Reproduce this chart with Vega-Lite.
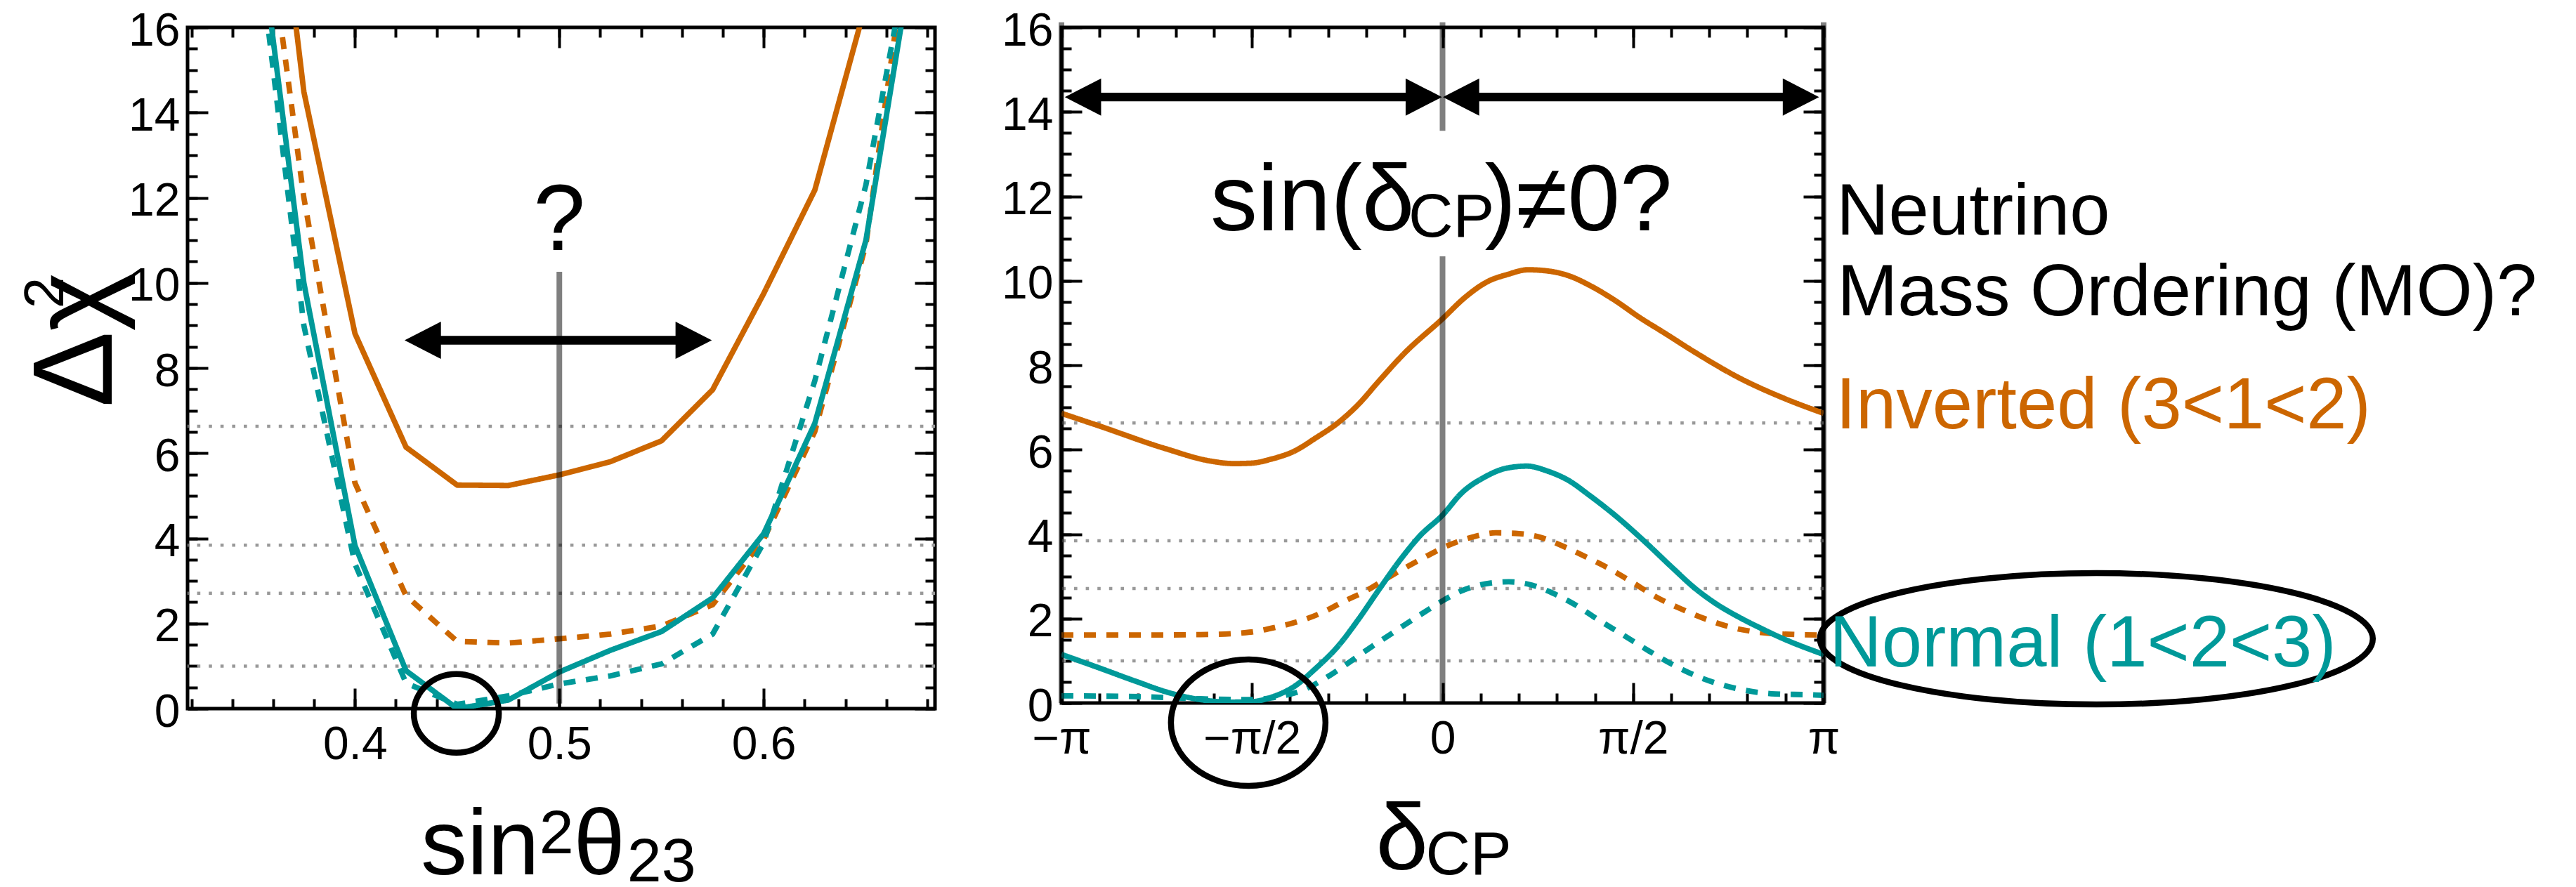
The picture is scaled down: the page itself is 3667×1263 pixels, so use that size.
{
  "$schema": "https://vega.github.io/schema/vega-lite/v6.json",
  "background": "white",
  "padding": {"left": 23, "top": 8, "right": 0, "bottom": 0},
  "bounds": "flush",
  "spacing": 180,
  "datasets": {
    "levels": [{"level": 1.0}, {"level": 2.71}, {"level": 3.84}, {"level": 6.63}],
    "theta23": [
      {"s2": 0.35, "chi2": 24.5, "mo": "Inverted", "analysis": "A"},
      {"s2": 0.375, "chi2": 14.49, "mo": "Inverted", "analysis": "A"},
      {"s2": 0.4, "chi2": 8.81, "mo": "Inverted", "analysis": "A"},
      {"s2": 0.425, "chi2": 6.14, "mo": "Inverted", "analysis": "A"},
      {"s2": 0.45, "chi2": 5.25, "mo": "Inverted", "analysis": "A"},
      {"s2": 0.475, "chi2": 5.24, "mo": "Inverted", "analysis": "A"},
      {"s2": 0.5, "chi2": 5.49, "mo": "Inverted", "analysis": "A"},
      {"s2": 0.525, "chi2": 5.8, "mo": "Inverted", "analysis": "A"},
      {"s2": 0.55, "chi2": 6.29, "mo": "Inverted", "analysis": "A"},
      {"s2": 0.575, "chi2": 7.49, "mo": "Inverted", "analysis": "A"},
      {"s2": 0.6, "chi2": 9.75, "mo": "Inverted", "analysis": "A"},
      {"s2": 0.625, "chi2": 12.18, "mo": "Inverted", "analysis": "A"},
      {"s2": 0.65, "chi2": 16.56, "mo": "Inverted", "analysis": "A"},
      {"s2": 0.35, "chi2": 21.0, "mo": "Inverted", "analysis": "B"},
      {"s2": 0.375, "chi2": 12.0, "mo": "Inverted", "analysis": "B"},
      {"s2": 0.4, "chi2": 5.3, "mo": "Inverted", "analysis": "B"},
      {"s2": 0.425, "chi2": 2.65, "mo": "Inverted", "analysis": "B"},
      {"s2": 0.45, "chi2": 1.58, "mo": "Inverted", "analysis": "B"},
      {"s2": 0.475, "chi2": 1.54, "mo": "Inverted", "analysis": "B"},
      {"s2": 0.5, "chi2": 1.64, "mo": "Inverted", "analysis": "B"},
      {"s2": 0.525, "chi2": 1.75, "mo": "Inverted", "analysis": "B"},
      {"s2": 0.55, "chi2": 1.94, "mo": "Inverted", "analysis": "B"},
      {"s2": 0.575, "chi2": 2.44, "mo": "Inverted", "analysis": "B"},
      {"s2": 0.6, "chi2": 3.98, "mo": "Inverted", "analysis": "B"},
      {"s2": 0.625, "chi2": 6.51, "mo": "Inverted", "analysis": "B"},
      {"s2": 0.65, "chi2": 10.9, "mo": "Inverted", "analysis": "B"},
      {"s2": 0.675, "chi2": 19.6, "mo": "Inverted", "analysis": "B"},
      {"s2": 0.35, "chi2": 19.5, "mo": "Normal", "analysis": "A"},
      {"s2": 0.375, "chi2": 10.0, "mo": "Normal", "analysis": "A"},
      {"s2": 0.4, "chi2": 3.83, "mo": "Normal", "analysis": "A"},
      {"s2": 0.425, "chi2": 0.89, "mo": "Normal", "analysis": "A"},
      {"s2": 0.45, "chi2": 0.0, "mo": "Normal", "analysis": "A"},
      {"s2": 0.475, "chi2": 0.2, "mo": "Normal", "analysis": "A"},
      {"s2": 0.5, "chi2": 0.86, "mo": "Normal", "analysis": "A"},
      {"s2": 0.525, "chi2": 1.37, "mo": "Normal", "analysis": "A"},
      {"s2": 0.55, "chi2": 1.81, "mo": "Normal", "analysis": "A"},
      {"s2": 0.575, "chi2": 2.6, "mo": "Normal", "analysis": "A"},
      {"s2": 0.6, "chi2": 4.11, "mo": "Normal", "analysis": "A"},
      {"s2": 0.625, "chi2": 6.7, "mo": "Normal", "analysis": "A"},
      {"s2": 0.65, "chi2": 11.0, "mo": "Normal", "analysis": "A"},
      {"s2": 0.675, "chi2": 18.3, "mo": "Normal", "analysis": "A"},
      {"s2": 0.35, "chi2": 19.0, "mo": "Normal", "analysis": "B"},
      {"s2": 0.375, "chi2": 9.0, "mo": "Normal", "analysis": "B"},
      {"s2": 0.4, "chi2": 3.4, "mo": "Normal", "analysis": "B"},
      {"s2": 0.425, "chi2": 0.6, "mo": "Normal", "analysis": "B"},
      {"s2": 0.45, "chi2": 0.1, "mo": "Normal", "analysis": "B"},
      {"s2": 0.475, "chi2": 0.3, "mo": "Normal", "analysis": "B"},
      {"s2": 0.5, "chi2": 0.58, "mo": "Normal", "analysis": "B"},
      {"s2": 0.525, "chi2": 0.77, "mo": "Normal", "analysis": "B"},
      {"s2": 0.55, "chi2": 1.05, "mo": "Normal", "analysis": "B"},
      {"s2": 0.575, "chi2": 1.75, "mo": "Normal", "analysis": "B"},
      {"s2": 0.6, "chi2": 3.9, "mo": "Normal", "analysis": "B"},
      {"s2": 0.625, "chi2": 7.7, "mo": "Normal", "analysis": "B"},
      {"s2": 0.65, "chi2": 12.3, "mo": "Normal", "analysis": "B"},
      {"s2": 0.675, "chi2": 18.8, "mo": "Normal", "analysis": "B"}
    ],
    "dcp": [
      {"d": -3.1416, "chi2": 6.86, "mo": "Inverted", "analysis": "A"},
      {"d": -2.839, "chi2": 6.57, "mo": "Inverted", "analysis": "A"},
      {"d": -2.291, "chi2": 6.03, "mo": "Inverted", "analysis": "A"},
      {"d": -1.913, "chi2": 5.73, "mo": "Inverted", "analysis": "A"},
      {"d": -1.723, "chi2": 5.67, "mo": "Inverted", "analysis": "A"},
      {"d": -1.576, "chi2": 5.68, "mo": "Inverted", "analysis": "A"},
      {"d": -1.407, "chi2": 5.78, "mo": "Inverted", "analysis": "A"},
      {"d": -1.218, "chi2": 5.97, "mo": "Inverted", "analysis": "A"},
      {"d": -1.049, "chi2": 6.27, "mo": "Inverted", "analysis": "A"},
      {"d": -0.86, "chi2": 6.64, "mo": "Inverted", "analysis": "A"},
      {"d": -0.691, "chi2": 7.08, "mo": "Inverted", "analysis": "A"},
      {"d": -0.523, "chi2": 7.63, "mo": "Inverted", "analysis": "A"},
      {"d": -0.312, "chi2": 8.29, "mo": "Inverted", "analysis": "A"},
      {"d": 0.0, "chi2": 9.1, "mo": "Inverted", "analysis": "A"},
      {"d": 0.183, "chi2": 9.6, "mo": "Inverted", "analysis": "A"},
      {"d": 0.371, "chi2": 9.98, "mo": "Inverted", "analysis": "A"},
      {"d": 0.537, "chi2": 10.15, "mo": "Inverted", "analysis": "A"},
      {"d": 0.704, "chi2": 10.26, "mo": "Inverted", "analysis": "A"},
      {"d": 0.871, "chi2": 10.23, "mo": "Inverted", "analysis": "A"},
      {"d": 1.038, "chi2": 10.12, "mo": "Inverted", "analysis": "A"},
      {"d": 1.226, "chi2": 9.87, "mo": "Inverted", "analysis": "A"},
      {"d": 1.413, "chi2": 9.55, "mo": "Inverted", "analysis": "A"},
      {"d": 1.63, "chi2": 9.12, "mo": "Inverted", "analysis": "A"},
      {"d": 1.831, "chi2": 8.76, "mo": "Inverted", "analysis": "A"},
      {"d": 2.067, "chi2": 8.33, "mo": "Inverted", "analysis": "A"},
      {"d": 2.452, "chi2": 7.69, "mo": "Inverted", "analysis": "A"},
      {"d": 2.795, "chi2": 7.24, "mo": "Inverted", "analysis": "A"},
      {"d": 3.1416, "chi2": 6.86, "mo": "Inverted", "analysis": "A"},
      {"d": -3.1416, "chi2": 1.61, "mo": "Inverted", "analysis": "B"},
      {"d": -2.5, "chi2": 1.61, "mo": "Inverted", "analysis": "B"},
      {"d": -2.0, "chi2": 1.62, "mo": "Inverted", "analysis": "B"},
      {"d": -1.744, "chi2": 1.64, "mo": "Inverted", "analysis": "B"},
      {"d": -1.533, "chi2": 1.7, "mo": "Inverted", "analysis": "B"},
      {"d": -1.365, "chi2": 1.8, "mo": "Inverted", "analysis": "B"},
      {"d": -1.155, "chi2": 1.96, "mo": "Inverted", "analysis": "B"},
      {"d": -0.986, "chi2": 2.15, "mo": "Inverted", "analysis": "B"},
      {"d": -0.818, "chi2": 2.4, "mo": "Inverted", "analysis": "B"},
      {"d": -0.628, "chi2": 2.66, "mo": "Inverted", "analysis": "B"},
      {"d": -0.46, "chi2": 2.95, "mo": "Inverted", "analysis": "B"},
      {"d": -0.291, "chi2": 3.23, "mo": "Inverted", "analysis": "B"},
      {"d": -0.123, "chi2": 3.49, "mo": "Inverted", "analysis": "B"},
      {"d": 0.053, "chi2": 3.74, "mo": "Inverted", "analysis": "B"},
      {"d": 0.246, "chi2": 3.93, "mo": "Inverted", "analysis": "B"},
      {"d": 0.439, "chi2": 4.03, "mo": "Inverted", "analysis": "B"},
      {"d": 0.632, "chi2": 4.01, "mo": "Inverted", "analysis": "B"},
      {"d": 0.825, "chi2": 3.91, "mo": "Inverted", "analysis": "B"},
      {"d": 0.996, "chi2": 3.71, "mo": "Inverted", "analysis": "B"},
      {"d": 1.189, "chi2": 3.45, "mo": "Inverted", "analysis": "B"},
      {"d": 1.382, "chi2": 3.17, "mo": "Inverted", "analysis": "B"},
      {"d": 1.553, "chi2": 2.88, "mo": "Inverted", "analysis": "B"},
      {"d": 1.767, "chi2": 2.5, "mo": "Inverted", "analysis": "B"},
      {"d": 1.981, "chi2": 2.21, "mo": "Inverted", "analysis": "B"},
      {"d": 2.196, "chi2": 1.96, "mo": "Inverted", "analysis": "B"},
      {"d": 2.41, "chi2": 1.77, "mo": "Inverted", "analysis": "B"},
      {"d": 2.624, "chi2": 1.67, "mo": "Inverted", "analysis": "B"},
      {"d": 2.924, "chi2": 1.62, "mo": "Inverted", "analysis": "B"},
      {"d": 3.1416, "chi2": 1.61, "mo": "Inverted", "analysis": "B"},
      {"d": -3.1416, "chi2": 1.15, "mo": "Normal", "analysis": "A"},
      {"d": -2.839, "chi2": 0.84, "mo": "Normal", "analysis": "A"},
      {"d": -2.544, "chi2": 0.53, "mo": "Normal", "analysis": "A"},
      {"d": -2.25, "chi2": 0.24, "mo": "Normal", "analysis": "A"},
      {"d": -1.997, "chi2": 0.08, "mo": "Normal", "analysis": "A"},
      {"d": -1.744, "chi2": 0.02, "mo": "Normal", "analysis": "A"},
      {"d": -1.576, "chi2": 0.03, "mo": "Normal", "analysis": "A"},
      {"d": -1.407, "chi2": 0.14, "mo": "Normal", "analysis": "A"},
      {"d": -1.218, "chi2": 0.4, "mo": "Normal", "analysis": "A"},
      {"d": -1.049, "chi2": 0.81, "mo": "Normal", "analysis": "A"},
      {"d": -0.86, "chi2": 1.35, "mo": "Normal", "analysis": "A"},
      {"d": -0.691, "chi2": 1.99, "mo": "Normal", "analysis": "A"},
      {"d": -0.523, "chi2": 2.69, "mo": "Normal", "analysis": "A"},
      {"d": -0.333, "chi2": 3.45, "mo": "Normal", "analysis": "A"},
      {"d": -0.186, "chi2": 3.96, "mo": "Normal", "analysis": "A"},
      {"d": 0.0, "chi2": 4.45, "mo": "Normal", "analysis": "A"},
      {"d": 0.16, "chi2": 4.98, "mo": "Normal", "analysis": "A"},
      {"d": 0.353, "chi2": 5.36, "mo": "Normal", "analysis": "A"},
      {"d": 0.525, "chi2": 5.56, "mo": "Normal", "analysis": "A"},
      {"d": 0.696, "chi2": 5.61, "mo": "Normal", "analysis": "A"},
      {"d": 0.867, "chi2": 5.49, "mo": "Normal", "analysis": "A"},
      {"d": 1.039, "chi2": 5.27, "mo": "Normal", "analysis": "A"},
      {"d": 1.21, "chi2": 4.92, "mo": "Normal", "analysis": "A"},
      {"d": 1.424, "chi2": 4.44, "mo": "Normal", "analysis": "A"},
      {"d": 1.66, "chi2": 3.84, "mo": "Normal", "analysis": "A"},
      {"d": 1.896, "chi2": 3.2, "mo": "Normal", "analysis": "A"},
      {"d": 2.067, "chi2": 2.75, "mo": "Normal", "analysis": "A"},
      {"d": 2.26, "chi2": 2.34, "mo": "Normal", "analysis": "A"},
      {"d": 2.452, "chi2": 2.02, "mo": "Normal", "analysis": "A"},
      {"d": 2.624, "chi2": 1.77, "mo": "Normal", "analysis": "A"},
      {"d": 2.795, "chi2": 1.54, "mo": "Normal", "analysis": "A"},
      {"d": 3.1416, "chi2": 1.15, "mo": "Normal", "analysis": "A"},
      {"d": -3.1416, "chi2": 0.17, "mo": "Normal", "analysis": "B"},
      {"d": -2.5, "chi2": 0.15, "mo": "Normal", "analysis": "B"},
      {"d": -2.0, "chi2": 0.1, "mo": "Normal", "analysis": "B"},
      {"d": -1.6, "chi2": 0.08, "mo": "Normal", "analysis": "B"},
      {"d": -1.35, "chi2": 0.15, "mo": "Normal", "analysis": "B"},
      {"d": -1.155, "chi2": 0.3, "mo": "Normal", "analysis": "B"},
      {"d": -0.965, "chi2": 0.59, "mo": "Normal", "analysis": "B"},
      {"d": -0.796, "chi2": 0.91, "mo": "Normal", "analysis": "B"},
      {"d": -0.607, "chi2": 1.29, "mo": "Normal", "analysis": "B"},
      {"d": -0.438, "chi2": 1.61, "mo": "Normal", "analysis": "B"},
      {"d": -0.27, "chi2": 1.93, "mo": "Normal", "analysis": "B"},
      {"d": -0.101, "chi2": 2.24, "mo": "Normal", "analysis": "B"},
      {"d": 0.0, "chi2": 2.42, "mo": "Normal", "analysis": "B"},
      {"d": 0.16, "chi2": 2.66, "mo": "Normal", "analysis": "B"},
      {"d": 0.353, "chi2": 2.82, "mo": "Normal", "analysis": "B"},
      {"d": 0.546, "chi2": 2.87, "mo": "Normal", "analysis": "B"},
      {"d": 0.739, "chi2": 2.79, "mo": "Normal", "analysis": "B"},
      {"d": 0.91, "chi2": 2.6, "mo": "Normal", "analysis": "B"},
      {"d": 1.103, "chi2": 2.31, "mo": "Normal", "analysis": "B"},
      {"d": 1.274, "chi2": 1.99, "mo": "Normal", "analysis": "B"},
      {"d": 1.489, "chi2": 1.61, "mo": "Normal", "analysis": "B"},
      {"d": 1.703, "chi2": 1.23, "mo": "Normal", "analysis": "B"},
      {"d": 1.917, "chi2": 0.88, "mo": "Normal", "analysis": "B"},
      {"d": 2.11, "chi2": 0.62, "mo": "Normal", "analysis": "B"},
      {"d": 2.302, "chi2": 0.43, "mo": "Normal", "analysis": "B"},
      {"d": 2.495, "chi2": 0.3, "mo": "Normal", "analysis": "B"},
      {"d": 2.71, "chi2": 0.22, "mo": "Normal", "analysis": "B"},
      {"d": 3.073, "chi2": 0.19, "mo": "Normal", "analysis": "B"},
      {"d": 3.1416, "chi2": 0.18, "mo": "Normal", "analysis": "B"}
    ]
  },
  "hconcat": [
    {
      "width": 1064,
      "height": 970,
      "resolve": {"axis": {"x": "independent", "y": "independent"}},
      "layer": [
        {
          "data": {"name": "levels"},
          "mark": {"type": "rule", "color": "#999999", "strokeWidth": 4.5, "strokeDash": [4.6, 12]},
          "encoding": {"y": {"field": "level", "type": "quantitative", "axis": null}}
        },
        {
          "data": {"name": "theta23"},
          "mark": {"type": "line", "clip": true, "strokeWidth": 7.8, "strokeCap": "butt"},
          "encoding": {
            "x": {"field": "s2", "type": "quantitative",
                  "scale": {"domain": [0.3181, 0.6838], "nice": false, "zero": false},
                  "axis": {"orient": "bottom", "values": [0.4, 0.5, 0.6], "format": ".1f", "ticks": false, "tickSize": 0, "labelPadding": 19, "title": null}},
            "y": {"field": "chi2", "type": "quantitative",
                  "scale": {"domain": [0, 16], "nice": false, "zero": false},
                  "axis": {"orient": "left", "values": [0, 2, 4, 6, 8, 10, 12, 14, 16], "ticks": false, "tickSize": 0, "labelPadding": 11, "labelOffset": 5, "title": null}},
            "color": {"field": "mo", "type": "nominal", "scale": {"domain": ["Inverted", "Normal"], "range": ["#CC6600", "#009999"]}, "legend": null},
            "strokeDash": {"field": "analysis", "type": "nominal", "scale": {"domain": ["A", "B"], "range": [[1, 0], [17, 15]]}, "legend": null}
          }
        },
        {
          "data": {"values": [{"s2": 0.5, "lo": 0.12, "hi": 10.26}]},
          "mark": {"type": "rule", "color": "black", "opacity": 0.5, "strokeWidth": 8},
          "encoding": {
            "x": {"field": "s2", "type": "quantitative",
                  "axis": {"orient": "bottom", "values": [0.4, 0.5, 0.6], "offset": -29, "tickSize": 29, "labels": false, "title": null}},
            "y": {"field": "lo", "type": "quantitative",
                  "axis": {"orient": "left", "values": [0, 2, 4, 6, 8, 10, 12, 14, 16], "offset": -29, "tickSize": 29, "labels": false, "title": null}},
            "y2": {"field": "hi"}
          }
        },
        {
          "data": {"values": [{"from": 0.4393, "to": 0.5596, "at": 8.65}]},
          "mark": {"type": "rule", "color": "black", "strokeWidth": 12.5},
          "encoding": {
            "x": {"field": "from", "type": "quantitative",
                  "axis": {"orient": "top", "values": [0.4, 0.5, 0.6], "offset": -29, "tickSize": 29, "labels": false, "title": null}},
            "x2": {"field": "to"},
            "y": {"field": "at", "type": "quantitative",
                  "axis": {"orient": "right", "values": [0, 2, 4, 6, 8, 10, 12, 14, 16], "offset": -29, "tickSize": 29, "labels": false, "title": null}}
          }
        },
        {
          "data": {"values": [{"tip": 0.4243, "at": 8.65, "dir": "left"}, {"tip": 0.5746, "at": 8.65, "dir": "right"}]},
          "mark": {"type": "point", "filled": true, "color": "black", "opacity": 1, "size": 2809, "strokeWidth": 0},
          "encoding": {
            "x": {"field": "tip", "type": "quantitative",
                  "axis": {"orient": "bottom", "values": [0.32, 0.34, 0.36, 0.38, 0.4, 0.42, 0.44, 0.46, 0.48, 0.5, 0.52, 0.54, 0.56, 0.58, 0.6, 0.62, 0.64, 0.66, 0.68], "offset": -14, "tickSize": 14, "labels": false, "title": null}},
            "y": {"field": "at", "type": "quantitative",
                  "axis": {"orient": "left", "values": [0, 0.5, 1, 1.5, 2, 2.5, 3, 3.5, 4, 4.5, 5, 5.5, 6, 6.5, 7, 7.5, 8, 8.5, 9, 9.5, 10, 10.5, 11, 11.5, 12, 12.5, 13, 13.5, 14, 14.5, 15, 15.5, 16], "offset": -14, "tickSize": 14, "labels": false, "title": null}},
            "shape": {"field": "dir", "type": "nominal", "scale": {"domain": ["left", "right"], "range": ["M0,0L1.95,-1L1.95,1Z", "M0,0L-1.95,-1L-1.95,1Z"]}, "legend": null}
          }
        },
        {
          "data": {"values": [{}]},
          "mark": {"type": "text", "text": "?", "font": "Liberation Sans", "fontSize": 133, "align": "center", "baseline": "alphabetic", "color": "black"},
          "encoding": {
            "x": {"datum": 0.5, "type": "quantitative",
                  "axis": {"orient": "top", "values": [0.32, 0.34, 0.36, 0.38, 0.4, 0.42, 0.44, 0.46, 0.48, 0.5, 0.52, 0.54, 0.56, 0.58, 0.6, 0.62, 0.64, 0.66, 0.68], "offset": -14, "tickSize": 14, "labels": false, "title": null}},
            "y": {"datum": 10.77, "type": "quantitative",
                  "axis": {"orient": "right", "values": [0, 0.5, 1, 1.5, 2, 2.5, 3, 3.5, 4, 4.5, 5, 5.5, 6, 6.5, 7, 7.5, 8, 8.5, 9, 9.5, 10, 10.5, 11, 11.5, 12, 12.5, 13, 13.5, 14, 14.5, 15, 15.5, 16], "offset": -14, "tickSize": 14, "labels": false, "title": null}}
          }
        },
        {
          "data": {"values": [{}]},
          "mark": {"type": "point", "shape": "M1,0C1,0.5114 0.5523,0.926 0,0.926C-0.5523,0.926 -1,0.5114 -1,0C-1,-0.5114 -0.5523,-0.926 0,-0.926C0.5523,-0.926 1,-0.5114 1,0Z", "filled": false, "color": "black", "opacity": 1, "strokeWidth": 8.5, "size": 14641},
          "encoding": {"x": {"datum": 0.4496, "type": "quantitative", "axis": null}, "y": {"datum": -0.11, "type": "quantitative", "axis": null}}
        },
        {
          "data": {"values": [{}]},
          "mark": {"type": "text", "text": "sin", "font": "Liberation Sans", "fontSize": 132, "align": "left", "baseline": "alphabetic", "color": "black"},
          "encoding": {"x": {"datum": 0.4322, "type": "quantitative", "axis": null}, "y": {"datum": -3.886, "type": "quantitative", "axis": null}}
        },
        {
          "data": {"values": [{}]},
          "mark": {"type": "text", "text": "2", "font": "Liberation Sans", "fontSize": 88, "align": "left", "baseline": "alphabetic", "color": "black"},
          "encoding": {"x": {"datum": 0.4902, "type": "quantitative", "axis": null}, "y": {"datum": -3.391, "type": "quantitative", "axis": null}}
        },
        {
          "data": {"values": [{}]},
          "mark": {"type": "text", "text": "θ", "font": "Liberation Sans", "fontSize": 132, "align": "left", "baseline": "alphabetic", "color": "black"},
          "encoding": {"x": {"datum": 0.507, "type": "quantitative", "axis": null}, "y": {"datum": -3.886, "type": "quantitative", "axis": null}}
        },
        {
          "data": {"values": [{}]},
          "mark": {"type": "text", "text": "23", "font": "Liberation Sans", "fontSize": 88, "align": "left", "baseline": "alphabetic", "color": "black"},
          "encoding": {"x": {"datum": 0.5332, "type": "quantitative", "axis": null}, "y": {"datum": -4.05, "type": "quantitative", "axis": null}}
        },
        {
          "data": {"values": [{}]},
          "mark": {"type": "text", "text": "Δχ", "font": "Liberation Sans", "fontSize": 162, "angle": 270, "align": "left", "baseline": "alphabetic", "color": "black"},
          "encoding": {"x": {"datum": 0.281, "type": "quantitative", "axis": null}, "y": {"datum": 7.077, "type": "quantitative", "axis": null}}
        },
        {
          "data": {"values": [{}]},
          "mark": {"type": "text", "text": "2", "font": "Liberation Sans", "fontSize": 80, "angle": 270, "align": "left", "baseline": "alphabetic", "color": "black"},
          "encoding": {"x": {"datum": 0.2573, "type": "quantitative", "axis": null}, "y": {"datum": 9.4, "type": "quantitative", "axis": null}}
        }
      ]
    },
    {
      "width": 1085,
      "height": 962,
      "resolve": {"axis": {"x": "independent", "y": "independent"}},
      "layer": [
        {
          "data": {"name": "levels"},
          "mark": {"type": "rule", "color": "#999999", "strokeWidth": 4.5, "strokeDash": [4.6, 12]},
          "encoding": {"y": {"field": "level", "type": "quantitative", "axis": null}}
        },
        {
          "data": {"name": "dcp"},
          "mark": {"type": "line", "clip": true, "strokeWidth": 7.8, "strokeCap": "butt", "interpolate": "monotone"},
          "encoding": {
            "x": {"field": "d", "type": "quantitative",
                  "scale": {"domain": [-3.14159, 3.14159], "nice": false, "zero": false},
                  "axis": {"orient": "bottom", "values": [-3.14159, -1.5708, 0, 1.5708, 3.14159], "ticks": false, "tickSize": 0, "labelPadding": 19, "title": null,
                           "labelExpr": "datum.value < -3 ? '−π' : datum.value < -1 ? '−π/2' : datum.value < 1 ? '0' : datum.value < 3 ? 'π/2' : 'π'"}},
            "y": {"field": "chi2", "type": "quantitative",
                  "scale": {"domain": [0, 16], "nice": false, "zero": false},
                  "axis": {"orient": "left", "values": [0, 2, 4, 6, 8, 10, 12, 14, 16], "ticks": false, "tickSize": 0, "labelPadding": 12, "labelOffset": 5, "title": null}},
            "color": {"field": "mo", "type": "nominal", "scale": {"domain": ["Inverted", "Normal"], "range": ["#CC6600", "#009999"]}, "legend": null},
            "strokeDash": {"field": "analysis", "type": "nominal", "scale": {"domain": ["A", "B"], "range": [[1, 0], [17, 15]]}, "legend": null}
          }
        },
        {
          "data": {"values": [{"d": -3.14159, "lo": 0, "hi": 16.12}, {"d": 0, "lo": 0, "hi": 10.58}, {"d": 0, "lo": 13.55, "hi": 16.12}, {"d": 3.14159, "lo": 0, "hi": 16.12}]},
          "mark": {"type": "rule", "color": "black", "opacity": 0.5, "strokeWidth": 8},
          "encoding": {
            "x": {"field": "d", "type": "quantitative",
                  "axis": {"orient": "bottom", "values": [-1.5708, 0, 1.5708], "offset": -29, "tickSize": 29, "labels": false, "title": null}},
            "y": {"field": "lo", "type": "quantitative",
                  "axis": {"orient": "left", "values": [0, 2, 4, 6, 8, 10, 12, 14, 16], "offset": -29, "tickSize": 29, "labels": false, "title": null}},
            "y2": {"field": "hi"}
          }
        },
        {
          "data": {"values": [{"from": -2.864, "to": -0.255, "at": 14.35}, {"from": 0.253, "to": 2.854, "at": 14.35}]},
          "mark": {"type": "rule", "color": "black", "strokeWidth": 12.3},
          "encoding": {
            "x": {"field": "from", "type": "quantitative",
                  "axis": {"orient": "top", "values": [-1.5708, 0, 1.5708], "offset": -29, "tickSize": 29, "labels": false, "title": null}},
            "x2": {"field": "to"},
            "y": {"field": "at", "type": "quantitative",
                  "axis": {"orient": "right", "values": [0, 2, 4, 6, 8, 10, 12, 14, 16], "offset": -29, "tickSize": 29, "labels": false, "title": null}}
          }
        },
        {
          "data": {"values": [{"tip": -3.114, "at": 14.35, "dir": "left"}, {"tip": -0.005, "at": 14.35, "dir": "right"}, {"tip": 0.003, "at": 14.35, "dir": "left"}, {"tip": 3.104, "at": 14.35, "dir": "right"}]},
          "mark": {"type": "point", "filled": true, "color": "black", "opacity": 1, "size": 2809, "strokeWidth": 0},
          "encoding": {
            "x": {"field": "tip", "type": "quantitative",
                  "axis": {"orient": "bottom", "values": [-3.14159, -2.82743, -2.51327, -2.19911, -1.88496, -1.5708, -1.25664, -0.94248, -0.62832, -0.31416, 0, 0.31416, 0.62832, 0.94248, 1.25664, 1.5708, 1.88496, 2.19911, 2.51327, 2.82743, 3.14159], "offset": -14, "tickSize": 14, "labels": false, "title": null}},
            "y": {"field": "at", "type": "quantitative",
                  "axis": {"orient": "left", "values": [0, 0.5, 1, 1.5, 2, 2.5, 3, 3.5, 4, 4.5, 5, 5.5, 6, 6.5, 7, 7.5, 8, 8.5, 9, 9.5, 10, 10.5, 11, 11.5, 12, 12.5, 13, 13.5, 14, 14.5, 15, 15.5, 16], "offset": -14, "tickSize": 14, "labels": false, "title": null}},
            "shape": {"field": "dir", "type": "nominal", "scale": {"domain": ["left", "right"], "range": ["M0,0L1.9,-1L1.9,1Z", "M0,0L-1.9,-1L-1.9,1Z"]}, "legend": null}
          }
        },
        {
          "data": {"values": [{}]},
          "mark": {"type": "text", "text": "sin(δ", "font": "Liberation Sans", "fontSize": 134, "align": "left", "baseline": "alphabetic", "color": "black"},
          "encoding": {
            "x": {"datum": -1.914, "type": "quantitative",
                  "axis": {"orient": "top", "values": [-3.14159, -2.82743, -2.51327, -2.19911, -1.88496, -1.5708, -1.25664, -0.94248, -0.62832, -0.31416, 0, 0.31416, 0.62832, 0.94248, 1.25664, 1.5708, 1.88496, 2.19911, 2.51327, 2.82743, 3.14159], "offset": -14, "tickSize": 14, "labels": false, "title": null}},
            "y": {"datum": 11.2, "type": "quantitative",
                  "axis": {"orient": "right", "values": [0, 0.5, 1, 1.5, 2, 2.5, 3, 3.5, 4, 4.5, 5, 5.5, 6, 6.5, 7, 7.5, 8, 8.5, 9, 9.5, 10, 10.5, 11, 11.5, 12, 12.5, 13, 13.5, 14, 14.5, 15, 15.5, 16], "offset": -14, "tickSize": 14, "labels": false, "title": null}}
          }
        },
        {
          "data": {"values": [{}]},
          "mark": {"type": "point", "shape": "M1,0C1,0.4518 0.5523,0.818 0,0.818C-0.5523,0.818 -1,0.4518 -1,0C-1,-0.4518 -0.5523,-0.818 0,-0.818C0.5523,-0.818 1,-0.4518 1,0Z", "filled": false, "color": "black", "opacity": 1, "strokeWidth": 8.5, "size": 48400},
          "encoding": {"x": {"datum": -1.602, "type": "quantitative", "axis": null}, "y": {"datum": -0.466, "type": "quantitative", "axis": null}}
        },
        {
          "data": {"values": [{}]},
          "mark": {"type": "point", "shape": "M1,0C1,0.1312 0.5523,0.2376 0,0.2376C-0.5523,0.2376 -1,0.1312 -1,0C-1,-0.1312 -0.5523,-0.2376 0,-0.2376C0.5523,-0.2376 1,-0.1312 1,0Z", "filled": false, "color": "black", "opacity": 1, "strokeWidth": 8.5, "size": 619369},
          "encoding": {"x": {"datum": 5.39, "type": "quantitative", "axis": null}, "y": {"datum": 1.52, "type": "quantitative", "axis": null}}
        },
        {
          "data": {"values": [{}]},
          "mark": {"type": "text", "text": "CP", "font": "Liberation Sans", "fontSize": 88, "align": "left", "baseline": "alphabetic", "color": "black"},
          "encoding": {"x": {"datum": -0.281, "type": "quantitative", "axis": null}, "y": {"datum": 11.05, "type": "quantitative", "axis": null}}
        },
        {
          "data": {"values": [{}]},
          "mark": {"type": "text", "text": ")≠0?", "font": "Liberation Sans", "fontSize": 134, "align": "left", "baseline": "alphabetic", "color": "black"},
          "encoding": {"x": {"datum": 0.347, "type": "quantitative", "axis": null}, "y": {"datum": 11.2, "type": "quantitative", "axis": null}}
        },
        {
          "data": {"values": [{}]},
          "mark": {"type": "text", "text": "δ", "font": "Liberation Sans", "fontSize": 134, "align": "left", "baseline": "alphabetic", "color": "black"},
          "encoding": {"x": {"datum": -0.55, "type": "quantitative", "axis": null}, "y": {"datum": -3.943, "type": "quantitative", "axis": null}}
        },
        {
          "data": {"values": [{}]},
          "mark": {"type": "text", "text": "CP", "font": "Liberation Sans", "fontSize": 88, "align": "left", "baseline": "alphabetic", "color": "black"},
          "encoding": {"x": {"datum": -0.139, "type": "quantitative", "axis": null}, "y": {"datum": -4.05, "type": "quantitative", "axis": null}}
        },
        {
          "data": {"values": [{}]},
          "mark": {"type": "text", "text": "Neutrino", "font": "Liberation Sans", "fontSize": 103, "align": "left", "baseline": "alphabetic", "color": "black"},
          "encoding": {"x": {"datum": 3.247, "type": "quantitative", "axis": null}, "y": {"datum": 11.1, "type": "quantitative", "axis": null}}
        },
        {
          "data": {"values": [{}]},
          "mark": {"type": "text", "text": "Mass Ordering (MO)?", "font": "Liberation Sans", "fontSize": 103, "align": "left", "baseline": "alphabetic", "color": "black"},
          "encoding": {"x": {"datum": 3.254, "type": "quantitative", "axis": null}, "y": {"datum": 9.185, "type": "quantitative", "axis": null}}
        },
        {
          "data": {"values": [{}]},
          "mark": {"type": "text", "text": "Inverted (3<1<2)", "font": "Liberation Sans", "fontSize": 103, "align": "left", "baseline": "alphabetic", "color": "#CC6600"},
          "encoding": {"x": {"datum": 3.242, "type": "quantitative", "axis": null}, "y": {"datum": 6.509, "type": "quantitative", "axis": null}}
        },
        {
          "data": {"values": [{}]},
          "mark": {"type": "text", "text": "Normal (1<2<3)", "font": "Liberation Sans", "fontSize": 103, "align": "left", "baseline": "alphabetic", "color": "#009999"},
          "encoding": {"x": {"datum": 3.19, "type": "quantitative", "axis": null}, "y": {"datum": 0.865, "type": "quantitative", "axis": null}}
        }
      ]
    }
  ],
  "config": {
    "view": {"stroke": "black", "strokeWidth": 5},
    "font": "Liberation Sans",
    "axis": {
      "grid": false,
      "domain": false,
      "labelFont": "Liberation Sans",
      "labelFontSize": 66,
      "labelColor": "black",
      "tickColor": "black",
      "tickWidth": 4,
      "labelFlush": false,
      "labelOverlap": false,
      "labelBound": false
    }
  }
}
